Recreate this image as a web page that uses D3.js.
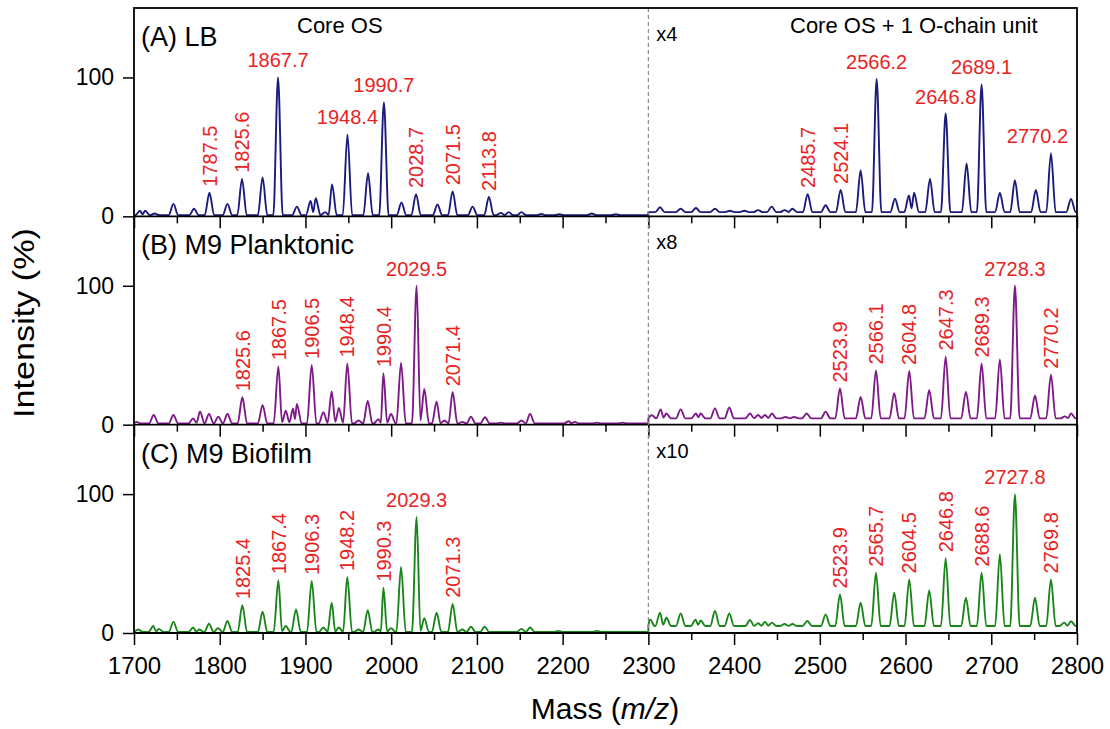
<!DOCTYPE html>
<html>
<head>
<meta charset="utf-8">
<script src="https://cdn.jsdelivr.net/npm/d3@7"></script>
<style>
  body { margin: 0; background: #fff; }
  svg { font-family: "Liberation Sans", Arial, sans-serif; }
</style>
</head>
<body>
<div id="chart"></div>
<script>
// tick values
var massTicks = [1700, 1800, 1900, 2000, 2100, 2200, 2300, 2400, 2500, 2600, 2700, 2800];
var minorTicks = [1750, 1850, 1950, 2050, 2150, 2250, 2350, 2450, 2550, 2650, 2750];
var intensityTicks = [0, 100];

// split point: right part is magnified
var splitMass = 2300;

// peaks: [m/z, intensity as drawn (%)]
var peaksA = [
  [1707, 4], [1713, 4], [1724, 2], [1746, 9], [1770, 5.5], [1788, 17], [1809, 9], [1826, 27],
  [1850, 28], [1868, 100], [1890, 7], [1906, 11], [1912, 13], [1923, 3], [1931, 23], [1949, 59],
  [1973, 31], [1991.5, 82], [2012, 10], [2029, 16], [2054, 8.5], [2071.7, 18], [2095, 7], [2114, 14],
  [2128, 2.5], [2137, 3], [2152, 3], [2175, 1.8], [2196, 1.5], [2234, 2], [2262, 1.5],
  [2313.6, 6.5], [2337.7, 5.5], [2355.5, 6], [2377.7, 5.5], [2395, 4], [2412, 4], [2428, 4.5],
  [2443.8, 7], [2459, 4.5], [2468, 5.5], [2485.8, 16], [2506.8, 8], [2524.3, 19], [2547.6, 33],
  [2566.3, 99], [2587.7, 12.7], [2604, 15], [2610, 17], [2628.5, 27], [2646.8, 74], [2671.2, 38],
  [2688.7, 95], [2710, 17], [2727.6, 26], [2752, 19], [2769.6, 45.5], [2793, 12.5]
];
var peaksB = [
  [1703, 2], [1723, 7], [1746, 7], [1769, 4.5], [1777, 9.5], [1787.5, 7.7], [1798.4, 5.8], [1809, 7.7],
  [1826.4, 19.7], [1850, 14], [1868.4, 42], [1877, 10], [1885.5, 11.7], [1890, 15], [1907.3, 43],
  [1921, 9], [1930.6, 24], [1939, 12], [1948.8, 44], [1962, 3], [1972.6, 17], [1985, 4], [1990.9, 37],
  [1999.8, 7.7], [2011.5, 44.6], [2029.7, 100], [2038.6, 25.7], [2053, 16.6], [2062, 3], [2071.7, 23.3],
  [2083, 2], [2093, 5.8], [2109.4, 5.3], [2128, 1.5], [2152, 3], [2162, 7.7], [2207, 2.5], [2214, 2],
  [2240, 1.5], [2270, 1.5],
  [2304, 6.8], [2314.4, 11], [2321, 8], [2337.7, 11], [2355.5, 8], [2361, 8], [2377.7, 11.7],
  [2394.4, 12.4], [2418.6, 8], [2428, 7], [2436, 7], [2444, 8], [2460, 5.5], [2470, 5.5], [2484.6, 8],
  [2506.8, 9.4], [2523.5, 26], [2547.6, 20], [2565.5, 39], [2586.8, 22.6], [2604.3, 38.6],
  [2627.6, 25], [2646.8, 49], [2670.4, 23.8], [2688.7, 44], [2710, 47], [2727.6, 100], [2751, 21],
  [2769.6, 36], [2786, 6], [2793, 8]
];
var peaksC = [
  [1705, 2.5], [1722.5, 5], [1729, 3], [1746, 8], [1769, 4], [1776, 2.5], [1787.5, 6.7], [1798, 3.5],
  [1809, 8.6], [1826.4, 20], [1850, 15.4], [1868.4, 38], [1877, 5], [1889, 17], [1907.3, 37.4],
  [1921, 4], [1930.6, 21.8], [1939, 4], [1948.8, 40.3], [1962, 2.5], [1972.6, 16.5], [1985, 2.5],
  [1990.9, 32.6], [1999.8, 3.5], [2011.5, 47.5], [2029.7, 83.5], [2038.6, 10.6], [2053, 14.6],
  [2071.7, 21], [2083, 2.5], [2093, 4.5], [2109, 4.5], [2152, 3], [2162, 4], [2195, 1.5], [2240, 1.5],
  [2302, 9.8], [2313.6, 14.6], [2321, 11], [2337.7, 14], [2355, 9.6], [2361, 9], [2377.7, 15.8],
  [2394.4, 14], [2418.6, 9.4], [2428, 7], [2436, 8], [2444, 7.5], [2459, 6.5], [2468, 6.5],
  [2485.4, 8.6], [2506.8, 13.4], [2523.5, 27.8], [2547.6, 21.8], [2565.5, 43.4], [2586.8, 29],
  [2604.3, 38.6], [2627.6, 30.7], [2646.8, 53.8], [2670.4, 25.4], [2688.7, 43.4], [2710, 56.7],
  [2727.6, 99.8], [2751, 25.4], [2769.6, 38.6], [2785, 7.5], [2793, 8.5]
];

// baseline level [left part, magnified right part]
var baseA = [0.8, 3];
var baseB = [0.8, 4.5];
var baseC = [0.7, 5];

// peak labels: [text, orientation h/v]
var labelsA = [
  ["1787.5", "v"], ["1825.6", "v"], ["1867.7", "h"], ["1948.4", "h"], ["1990.7", "h"],
  ["2028.7", "v"], ["2071.5", "v"], ["2113.8", "v"],
  ["2485.7", "v"], ["2524.1", "v"], ["2566.2", "h"], ["2646.8", "h"], ["2689.1", "h"], ["2770.2", "h"]
];
var labelsB = [
  ["1825.6", "v"], ["1867.5", "v"], ["1906.5", "v"], ["1948.4", "v"], ["1990.4", "v"],
  ["2029.5", "h"], ["2071.4", "v"],
  ["2523.9", "v"], ["2566.1", "v"], ["2604.8", "v"], ["2647.3", "v"], ["2689.3", "v"],
  ["2728.3", "h"], ["2770.2", "v"]
];
var labelsC = [
  ["1825.4", "v"], ["1867.4", "v"], ["1906.3", "v"], ["1948.2", "v"], ["1990.3", "v"],
  ["2029.3", "h"], ["2071.3", "v"],
  ["2523.9", "v"], ["2565.7", "v"], ["2604.5", "v"], ["2646.8", "v"], ["2688.6", "v"],
  ["2727.8", "h"], ["2769.8", "v"]
];

var panelTitles = ["(A) LB", "(B) M9 Planktonic", "(C) M9 Biofilm"];
var zoomTexts = ["x4", "x8", "x10"];
var colors = ["#1b1b7d", "#7d1a87", "#1a861a"];
var labelColor = "#e8231f";

var width = 1110, height = 729;
var plotL = 134, plotR = 1077, plotT = 8, plotB = 633;
var panelH = (plotB - plotT) / 3;
var peakW = 5.5;
var fontFam = "Liberation Sans, Arial, sans-serif";

var svg = d3.select("#chart").append("svg")
    .attr("width", width)
    .attr("height", height);

var x = d3.scaleLinear().domain([1700, 2800]).range([plotL, plotR]);

var panels = [
  { peaks: peaksA, base: baseA, labels: labelsA },
  { peaks: peaksB, base: baseB, labels: labelsB },
  { peaks: peaksC, base: baseC, labels: labelsC }
];

// build outline points for one region from its peak list
function regionPoints(peaks, lo, hi, base) {
  var pts = [[lo, base]];
  peaks.forEach(function(p, i) {
    var prev = peaks[i - 1], next = peaks[i + 1];
    if (!prev) {
      if (p[0] - lo > peakW) pts.push([p[0] - peakW, base]);
    }
    pts.push([p[0], p[1]]);
    if (next) {
      var gap = next[0] - p[0];
      if (gap >= 2 * peakW) {
        pts.push([p[0] + peakW, base]);
        pts.push([next[0] - peakW, base]);
      } else {
        var lowest = Math.min(p[1], next[1]) - base;
        pts.push([(p[0] + next[0]) / 2, base + 0.5 * lowest * (1 - gap / (2 * peakW))]);
      }
    } else if (hi - p[0] > peakW) {
      pts.push([p[0] + peakW, base]);
    }
  });
  pts.push([hi, base]);
  return pts;
}

panels.forEach(function(panel, i) {
  var y0 = plotT + panelH * (i + 1);
  var y = d3.scaleLinear().domain([0, 150]).range([y0, y0 - panelH]);
  var g = svg.append("g");

  var leftPeaks = panel.peaks.filter(function(d) { return d[0] < splitMass; });
  var rightPeaks = panel.peaks.filter(function(d) { return d[0] >= splitMass; });
  var pts = regionPoints(leftPeaks, 1700, splitMass, panel.base[0])
      .concat(regionPoints(rightPeaks, splitMass, 2800, panel.base[1]));

  var line = d3.line()
      .x(function(d) { return x(d[0]); })
      .y(function(d) { return y(d[1]); })
      .curve(d3.curveMonotoneX);

  g.append("path")
      .datum(pts)
      .attr("fill", "none")
      .attr("stroke", colors[i])
      .attr("stroke-width", 1.9)
      .attr("stroke-linejoin", "round")
      .attr("d", line);

  // peak labels
  panel.labels.forEach(function(l) {
    var m = +l[0];
    var pk = panel.peaks.reduce(function(a, b) {
      return Math.abs(b[0] - m) < Math.abs(a[0] - m) ? b : a;
    });
    var px = x(pk[0]), py = y(pk[1]);
    if (l[1] === "v") {
      g.append("text")
          .attr("transform", "translate(" + px + "," + (py - 6) + ") rotate(-90)")
          .attr("dy", "0.36em")
          .attr("fill", labelColor)
          .attr("font-size", 20)
          .text(l[0]);
    } else {
      var t = g.append("text")
          .attr("x", px)
          .attr("y", py - 10)
          .attr("text-anchor", "middle")
          .attr("fill", labelColor)
          .attr("font-size", 20)
          .text(l[0]);
      var half = t.node().getComputedTextLength() / 2;
      if (px + half > plotR - 9) t.attr("x", plotR - 9 - half);
    }
  });

  // y axis
  svg.append("g")
      .attr("transform", "translate(" + plotL + ",0)")
      .call(d3.axisLeft(y).tickValues(intensityTicks).tickSize(11).tickPadding(9))
      .call(function(a) {
        a.select(".domain").remove();
        a.selectAll("line").attr("stroke-width", 1.5);
        a.selectAll("text").attr("font-size", 23).attr("font-family", fontFam);
      });

  // x ticks under each panel
  var xa = svg.append("g")
      .attr("transform", "translate(0," + y0 + ")")
      .call(d3.axisBottom(x).tickValues(massTicks).tickSize(12).tickPadding(12)
        .tickFormat(i === 2 ? d3.format("d") : ""));
  xa.select(".domain").remove();
  xa.selectAll("line").attr("stroke-width", 1.5);
  xa.selectAll("text").attr("font-size", 24).attr("font-family", fontFam);
  var xm = svg.append("g")
      .attr("transform", "translate(0," + y0 + ")")
      .call(d3.axisBottom(x).tickValues(minorTicks).tickSize(7).tickFormat(""));
  xm.select(".domain").remove();
  xm.selectAll("line").attr("stroke-width", 1.5);

  // panel texts
  svg.append("text")
      .attr("x", 141)
      .attr("y", y0 - panelH + 38)
      .attr("font-size", 27)
      .text(panelTitles[i]);
  svg.append("text")
      .attr("x", x(splitMass) + 8)
      .attr("y", y0 - panelH + 33)
      .attr("font-size", 20)
      .text(zoomTexts[i]);

  // separator / baseline frame line
  svg.append("line")
      .attr("x1", plotL).attr("x2", plotR)
      .attr("y1", y0).attr("y2", y0)
      .attr("stroke", "#000")
      .attr("stroke-width", 1.8);
});

svg.append("text")
    .attr("x", 297)
    .attr("y", 33)
    .attr("font-size", 22)
    .text("Core OS");
svg.append("text")
    .attr("x", 790)
    .attr("y", 33)
    .attr("font-size", 22)
    .text("Core OS + 1 O-chain unit");

// split line
svg.append("line")
    .attr("x1", x(splitMass)).attr("x2", x(splitMass))
    .attr("y1", plotT).attr("y2", plotB)
    .attr("stroke", "#888")
    .attr("stroke-width", 1.2)
    .attr("stroke-dasharray", "4,3");

// frame
svg.append("rect")
    .attr("x", plotL).attr("y", plotT)
    .attr("width", plotR - plotL).attr("height", plotB - plotT)
    .attr("fill", "none")
    .attr("stroke", "#000")
    .attr("stroke-width", 1.8);

// axis titles
svg.append("text")
    .attr("transform", "translate(34,323) rotate(-90)")
    .attr("text-anchor", "middle")
    .attr("font-size", 29)
    .attr("textLength", 190)
    .attr("lengthAdjust", "spacingAndGlyphs")
    .text("Intensity (%)");

var xt = svg.append("text")
    .attr("x", 605)
    .attr("y", 719)
    .attr("text-anchor", "middle")
    .attr("font-size", 30);
xt.append("tspan").text("Mass (");
xt.append("tspan").attr("font-style", "italic").text("m/z");
xt.append("tspan").text(")");
</script>
</body>
</html>
